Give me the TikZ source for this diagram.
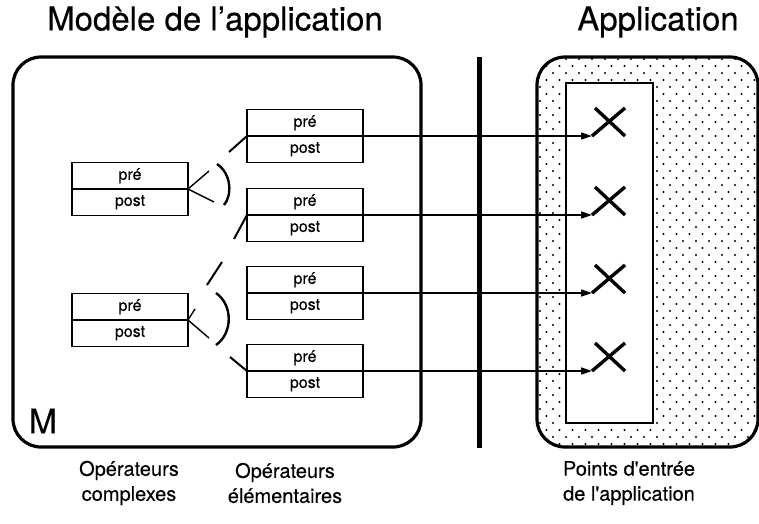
\documentclass[tikz,border=0pt]{standalone}
\usepackage{fontspec}
\setmainfont{TeX Gyre Heros}[FakeBold=0.3]
\usetikzlibrary{arrows.meta}
\begin{document}
\begin{tikzpicture}[x=1pt,y=-1pt,
  half/.style={draw, line width=1.6pt, minimum width=116pt, minimum height=26.5pt, inner sep=0pt, outer sep=0pt, font=\fontsize{16}{18}\selectfont},
  bigbox/.style={line width=3.2pt, rounded corners=28pt},
  conn/.style={line width=1.4pt},
  thickconn/.style={line width=2pt},
  arcline/.style={line width=2.4pt},
  arr/.style={line width=1.5pt, -{Triangle[length=11pt,width=7pt]}},
  xmark/.style={line width=3.4pt},
  title/.style={font=\fontsize{33}{38}\selectfont},
  lab/.style={font=\fontsize{20}{25}\selectfont, align=center}]
\useasboundingbox (0,0) rectangle (759,523);
% dotted application area
\begin{scope}
  \clip[rounded corners=28pt] (537,57) rectangle (758,447);
  \foreach \r in {0,...,56}{
    \pgfmathsetmacro\yy{59+7*\r}
    \pgfmathsetmacro\xo{540+6.5*mod(\r,2)}
    \foreach \c in {0,...,17}{\fill (\xo+13*\c,\yy) circle (1.05pt);}
  }
\end{scope}
\node[draw, line width=1.6pt, fill=white, minimum width=87pt, minimum height=340pt, inner sep=0pt, outer sep=0pt, anchor=north west] (entries) at (566,83) {};
\draw[bigbox] (537,57) rectangle (758,447);
\draw[bigbox] (13,57) rectangle (421,447);
\coordinate (septop) at (479,57);
\coordinate (sepbot) at (479,448);
\draw[line width=5pt] (septop) -- (sepbot);
% elementary operators
\foreach \i/\d in {1/136,2/215,3/293,4/371}{
  \node[half, anchor=south west] (pre\i) at (247,\d) {pré};
  \node[half, anchor=north west] (post\i) at (247,\d) {post};
  \coordinate (p\i) at (592,\d);
  \draw[arr] (pre\i.south east) -- (p\i);
  \draw[xmark] (p\i) -- ++(33,-28);
  \draw[xmark] (595,\d-28) -- (625,\d);
}
% complex operators
\foreach \i/\d in {1/189,2/320}{
  \node[half, anchor=south west] (cpre\i) at (72,\d) {pré};
  \node[half, anchor=north west] (cpost\i) at (72,\d) {post};
}
% group 1
\coordinate (f1u) at (209,171);
\coordinate (f1d) at (214,202);
\draw[conn] (cpre1.south east) -- (f1u);
\draw[conn] (cpre1.south east) -- (f1d);
\draw[arcline] (217,164) .. controls (232,174) and (232,196) .. (224,205);
\coordinate (g1) at (229,152);
\coordinate (g2) at (234,239);
\draw[thickconn] (g1) -- (pre1.south west);
\draw[thickconn] (g2) -- (pre2.south west);
% group 2
\coordinate (f2u) at (195,309);
\coordinate (f2d) at (209,338);
\draw[conn] (cpre2.south east) -- (f2u);
\draw[conn] (cpre2.south east) -- (f2d);
\coordinate (s1) at (207,285);
\coordinate (s2) at (222,262);
\draw[thickconn] (s1) -- (s2);
\draw[arcline] (216,293) .. controls (233,305) and (233,333) .. (216,345);
\coordinate (g4) at (230,357);
\draw[thickconn] (g4) -- (pre4.south west);
% texts
\node[title] (t1) at (215,22) {Modèle de l’application};
\node[title] (t2) at (658,22) {Application};
\node[font=\fontsize{34}{38}\selectfont, inner sep=0pt] (m) at (43,421) {M};
\node[lab] (l1) at (129,483) {Opérateurs\\complexes};
\node[lab] (l2) at (285,483) {Opérateurs\\élémentaires};
\node[lab] (l3) at (629,483) {Points d\textquotesingle entrée\\de l\textquotesingle application};
\end{tikzpicture}
\end{document}
